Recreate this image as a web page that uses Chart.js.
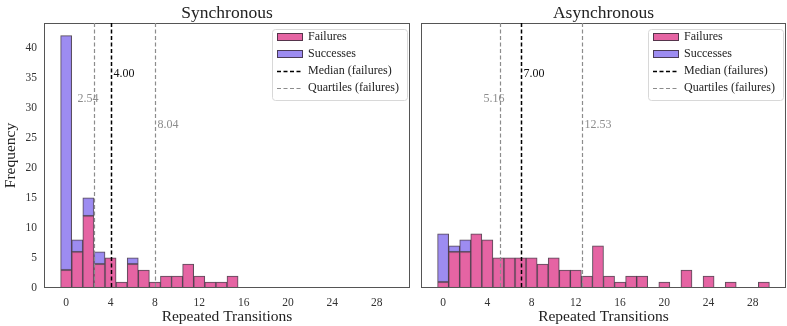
<!DOCTYPE html>
<html>
<head>
<meta charset="utf-8">
<script src="https://cdn.jsdelivr.net/npm/chart.js@4.4.1/dist/chart.umd.min.js"></script>
<style>
  html, body { margin: 0; padding: 0; background: #fff; }
  #wrap { position: relative; width: 787px; height: 326px; }
  canvas { position: absolute; top: 0; }
</style>
</head>
<body>
<div id="wrap">
  <canvas id="sync" width="414" height="326" style="left:0"></canvas>
  <canvas id="async" width="373" height="326" style="left:414px"></canvas>
</div>
<script>
// histogram bins (bin centres) and counts
const binCenters = [0, 1, 2, 3, 4, 5, 6, 7, 8, 9, 10, 11, 12, 13, 14, 15, 16, 17, 18, 19, 20, 21, 22, 23, 24, 25, 26, 27, 28, 29];
const syncFailures = [3, 6, 12, 4, 5, 1, 4, 3, 1, 2, 2, 4, 2, 1, 1, 2, 0, 0, 0, 0, 0, 0, 0, 0, 0, 0, 0, 0, 0, 0];
const syncSuccesses = [39, 2, 3, 2, 0, 0, 1, 0, 0, 0, 0, 0, 0, 0, 0, 0, 0, 0, 0, 0, 0, 0, 0, 0, 0, 0, 0, 0, 0, 0];
const asyncFailures = [1, 6, 6, 9, 8, 5, 5, 5, 5, 4, 5, 3, 3, 2, 7, 2, 1, 2, 2, 0, 1, 0, 3, 0, 2, 0, 1, 0, 0, 1];
const asyncSuccesses = [8, 1, 2, 0, 0, 0, 0, 0, 0, 0, 0, 0, 0, 0, 0, 0, 0, 0, 0, 0, 0, 0, 0, 0, 0, 0, 0, 0, 0, 0];

const syncMedian = 4.00;
const syncQuartiles = [2.54, 8.04];
const asyncMedian = 7.00;
const asyncQuartiles = [5.16, 12.53];

const xTicks = [0, 4, 8, 12, 16, 20, 24, 28];
const yTicks = [0, 5, 10, 15, 20, 25, 30, 35, 40];

const FONT = "'Liberation Serif', 'DejaVu Serif', serif";
const failColor = 'rgba(228, 92, 158, 0.95)';
const succColor = 'rgba(152, 134, 240, 0.95)';
const edgeColor = 'rgba(60, 45, 60, 0.85)';
const quartColor = '#8c8c8c';

// only non-empty bins become bars
function toPoints(counts) {
  const pts = [];
  binCenters.forEach((x, i) => {
    if (counts[i] > 0) pts.push({ x: x, y: counts[i] });
  });
  return pts;
}

function fmt(v) { return v.toFixed(2); }

// frame, title, median/quartile lines and the legend box
const panelPlugin = {
  id: 'panel',
  afterDatasetsDraw(chart, args, opts) {
    const ctx = chart.ctx;
    const area = chart.chartArea;
    const xs = chart.scales.x;
    const h = area.bottom - area.top;

    ctx.save();
    // frame
    ctx.strokeStyle = '#555';
    ctx.lineWidth = 1;
    ctx.strokeRect(area.left + 0.5, area.top + 0.5, area.right - area.left - 1, h - 1);

    // title
    ctx.fillStyle = '#222';
    ctx.font = '17.5px ' + FONT;
    ctx.textAlign = 'center';
    ctx.textBaseline = 'middle';
    ctx.fillText(opts.title, (area.left + area.right) / 2, 13);

    // vertical lines
    function vline(v, color, width, dash) {
      const px = Math.round(xs.getPixelForValue(v)) + 0.5;
      ctx.beginPath();
      ctx.setLineDash(dash);
      ctx.strokeStyle = color;
      ctx.lineWidth = width;
      ctx.moveTo(px, area.top);
      ctx.lineTo(px, area.bottom);
      ctx.stroke();
      ctx.setLineDash([]);
      return px;
    }
    const q1 = vline(opts.quartiles[0], quartColor, 1.2, [4, 2.5]);
    const q3 = vline(opts.quartiles[1], quartColor, 1.2, [4, 2.5]);
    const md = vline(opts.median, '#000', 1.5, [4, 2.5]);

    ctx.font = '12px ' + FONT;
    ctx.textBaseline = 'middle';
    ctx.fillStyle = '#111';
    ctx.textAlign = 'left';
    ctx.fillText(fmt(opts.median), md + 2, area.top + 0.19 * h);
    ctx.fillStyle = quartColor;
    ctx.textAlign = 'right';
    ctx.fillText(fmt(opts.quartiles[0]), q1 + 4, area.top + 0.287 * h);
    ctx.textAlign = 'left';
    ctx.fillText(fmt(opts.quartiles[1]), q3 + 2, area.top + 0.386 * h);

    // legend
    const bw = 135, bh = 71;
    const bx = area.right - bw - 3, by = area.top + 6;
    ctx.beginPath();
    ctx.roundRect(bx + 0.5, by + 0.5, bw, bh, 3);
    ctx.fillStyle = 'rgba(255,255,255,0.85)';
    ctx.fill();
    ctx.strokeStyle = '#d8d8d8';
    ctx.lineWidth = 1;
    ctx.stroke();

    const rows = [
      { label: 'Failures', kind: 'box', color: failColor },
      { label: 'Successes', kind: 'box', color: succColor },
      { label: 'Median (failures)', kind: 'line', color: '#000', width: 1.6 },
      { label: 'Quartiles (failures)', kind: 'line', color: quartColor, width: 1.2 }
    ];
    rows.forEach((r, i) => {
      const cy = by + 8 + i * 17;
      if (r.kind === 'box') {
        ctx.fillStyle = r.color;
        ctx.fillRect(bx + 5, cy - 4, 26, 8);
        ctx.strokeStyle = edgeColor;
        ctx.strokeRect(bx + 5.5, cy - 3.5, 25, 7);
      } else {
        ctx.beginPath();
        ctx.setLineDash([4, 2.5]);
        ctx.strokeStyle = r.color;
        ctx.lineWidth = r.width;
        ctx.moveTo(bx + 5, cy + 0.5);
        ctx.lineTo(bx + 31, cy + 0.5);
        ctx.stroke();
        ctx.setLineDash([]);
        ctx.lineWidth = 1;
      }
      ctx.fillStyle = '#222';
      ctx.font = '12px ' + FONT;
      ctx.textAlign = 'left';
      ctx.fillText(r.label, bx + 36, cy);
    });
    ctx.restore();
  }
};

function makePanel(id, title, failures, successes, median, quartiles, showY) {
  const ctx = document.getElementById(id).getContext('2d');
  const barOpts = {
    borderColor: edgeColor,
    borderWidth: 1,
    borderSkipped: false,
    barPercentage: 1,
    categoryPercentage: 1
  };
  return new Chart(ctx, {
    type: 'bar',
    data: {
      datasets: [
        Object.assign({ label: 'Failures', data: toPoints(failures), backgroundColor: failColor }, barOpts),
        Object.assign({ label: 'Successes', data: toPoints(successes), backgroundColor: succColor }, barOpts)
      ]
    },
    options: {
      responsive: false,
      animation: false,
      devicePixelRatio: 1,
      layout: { padding: { top: 23, right: showY ? 4 : 1, left: showY ? 0 : 7, bottom: 0 } },
      plugins: {
        legend: { display: false },
        tooltip: { enabled: false },
        panel: { title: title, median: median, quartiles: quartiles }
      },
      scales: {
        x: {
          type: 'linear',
          stacked: true,
          offset: false,
          min: -2,
          max: 31,
          grid: { display: false, drawTicks: false },
          border: { display: false },
          afterBuildTicks: s => { s.ticks = xTicks.map(v => ({ value: v })); },
          afterFit: s => { s.height = 38; },
          ticks: { color: '#333', padding: 8, maxRotation: 0, font: { family: FONT, size: 11.5 } },
          title: { display: true, text: 'Repeated Transitions', color: '#222', padding: { top: 0, bottom: 0 }, font: { family: FONT, size: 15.5 } }
        },
        y: {
          display: showY,
          stacked: true,
          min: 0,
          max: 44.1,
          grid: { display: false, drawTicks: false },
          border: { display: false },
          afterBuildTicks: s => { s.ticks = yTicks.map(v => ({ value: v })); },
          afterFit: s => { s.width = showY ? 44 : 0; },
          ticks: { color: '#333', padding: 7, font: { family: FONT, size: 11.5 } },
          title: { display: true, text: 'Frequency', color: '#222', padding: { top: 2, bottom: 0 }, font: { family: FONT, size: 15.5 } }
        }
      }
    },
    plugins: [panelPlugin]
  });
}

makePanel('sync', 'Synchronous', syncFailures, syncSuccesses, syncMedian, syncQuartiles, true);
makePanel('async', 'Asynchronous', asyncFailures, asyncSuccesses, asyncMedian, asyncQuartiles, false);
</script>
</body>
</html>
